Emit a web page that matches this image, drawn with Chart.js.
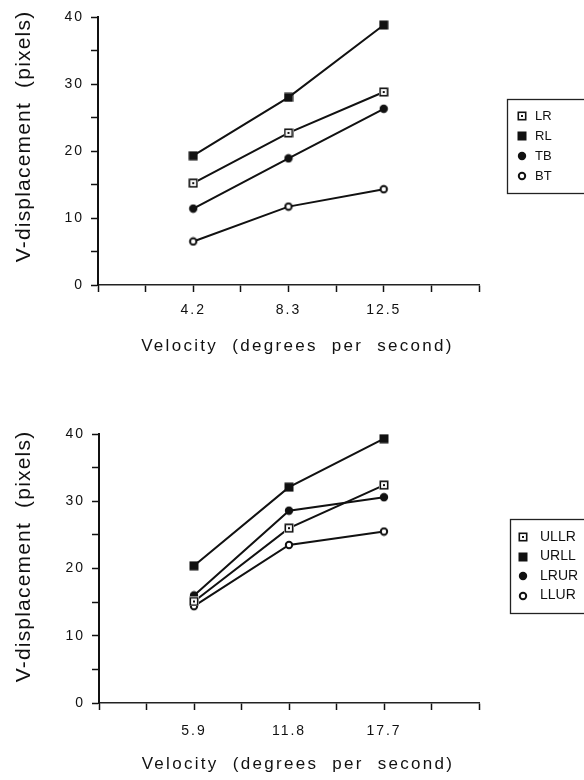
<!DOCTYPE html>
<html>
<head>
<meta charset="utf-8">
<script src="https://cdn.jsdelivr.net/npm/chart.js@4.4.1/dist/chart.umd.min.js"></script>
<style>
  html, body { margin: 0; padding: 0; background: #fff; overflow: hidden; }
  .panel { position: absolute; left: 0; width: 584px; height: 390px; }
</style>
</head>
<body>
<div class="panel" style="top:0"><canvas id="topChart" width="584" height="390"></canvas></div>
<div class="panel" style="top:390px"><canvas id="bottomChart" width="584" height="390"></canvas></div>
<script>
// top panel: velocities and V-displacement per direction
const topVelocities = ['4.2', '8.3', '12.5'];
const lrValues = [15.2, 22.7, 28.8];
const rlValues = [19.3, 28.0, 38.8];
const tbValues = [11.4, 18.9, 26.3];
const btValues = [6.5, 11.7, 14.3];

// bottom panel: diagonal directions
const bottomVelocities = ['5.9', '11.8', '17.7'];
const ullrValues = [15.1, 26.0, 32.4];
const urllValues = [20.4, 32.1, 39.3];
const lrurValues = [16.0, 28.6, 30.6];
const llurValues = [14.4, 23.5, 25.5];

const yMax = 40;
const xTitle = 'Velocity  (degrees  per  second)';
const yTitle = 'V-displacement  (pixels)';

const INK = '#111';
Chart.defaults.font.family = '"Liberation Sans", Arial, Helvetica, sans-serif';
Chart.defaults.color = INK;
Chart.defaults.animation = false;

// small marker images, used for points and for the legend
function makeMarker(kind) {
    const c = document.createElement('canvas');
    c.width = 10; c.height = 10;
    const g = c.getContext('2d');
    g.fillStyle = INK;
    g.strokeStyle = INK;
    if (kind === 'openSquare') {
        g.fillStyle = '#fff';
        g.fillRect(0, 0, 10, 10);
        g.lineWidth = 1.6;
        g.strokeRect(1.3, 1.3, 7.4, 7.4);
        g.fillStyle = INK;
        g.fillRect(4, 4, 2, 2);
    } else if (kind === 'filledSquare') {
        g.fillRect(0.5, 0.5, 9, 9);
    } else if (kind === 'filledCircle') {
        g.beginPath(); g.arc(5, 5, 4.2, 0, Math.PI * 2); g.fill();
    } else {
        g.fillStyle = '#fff';
        g.beginPath(); g.arc(5, 5, 3.2, 0, Math.PI * 2); g.fill();
        g.lineWidth = 2;
        g.stroke();
    }
    return c;
}

const markers = {
    openSquare: makeMarker('openSquare'),
    filledSquare: makeMarker('filledSquare'),
    filledCircle: makeMarker('filledCircle'),
    openCircle: makeMarker('openCircle')
};

function series(label, values, marker) {
    return {
        label: label,
        data: values.map((v, i) => ({ x: (i + 1) * 2, y: v })),
        borderColor: INK,
        borderWidth: 2,
        pointStyle: markers[marker],
        pointRadius: 5,
        tension: 0
    };
}

// letter spaced tick labels like the old plotting program
const spacedTicks = {
    id: 'spacedTicks',
    beforeDraw(chart) { chart.ctx.letterSpacing = '2px'; },
    beforeDatasetsDraw(chart) { chart.ctx.letterSpacing = '0px'; }
};

const axisTitles = {
    id: 'axisTitles',
    afterDraw(chart, args, opts) {
        const { ctx, chartArea } = chart;
        ctx.save();
        ctx.fillStyle = INK;
        ctx.textAlign = 'center';
        ctx.textBaseline = 'middle';
        ctx.letterSpacing = '2.3px';
        ctx.font = '17px "Liberation Sans", Arial, sans-serif';
        ctx.fillText(xTitle, (chartArea.left + chartArea.right) / 2 + opts.xShift, chartArea.bottom + opts.xDrop);
        ctx.letterSpacing = '1.2px';
        ctx.font = '21px "Liberation Sans", Arial, sans-serif';
        ctx.translate(opts.yAt, (chartArea.top + chartArea.bottom) / 2 + opts.yShift);
        ctx.rotate(-Math.PI / 2);
        ctx.fillText(yTitle, 0, 0);
        ctx.restore();
    }
};

// framed legend, its right edge runs off the page
const boxLegend = {
    id: 'boxLegend',
    afterDraw(chart, args, opts) {
        const ctx = chart.ctx;
        ctx.save();
        ctx.letterSpacing = '0px';
        ctx.strokeStyle = '#222';
        ctx.lineWidth = 1.3;
        ctx.strokeRect(opts.left + 0.5, opts.top + 0.5, chart.width, opts.bottom - opts.top);
        ctx.fillStyle = INK;
        ctx.textBaseline = 'middle';
        ctx.font = opts.fontSize + 'px "Liberation Sans", Arial, sans-serif';
        chart.data.datasets.forEach((ds, i) => {
            const y = opts.firstY + i * opts.rowGap;
            const m = ds.pointStyle;
            ctx.drawImage(m, Math.round(opts.markerX - m.width / 2), Math.round(y - m.height / 2));
            ctx.fillText(ds.label, opts.textX, y);
        });
        ctx.restore();
    }
};

function buildPanel(canvasId, categories, datasets, box) {
    return new Chart(document.getElementById(canvasId), {
        type: 'line',
        data: { datasets: datasets },
        plugins: [spacedTicks, axisTitles, boxLegend],
        options: {
            responsive: false,
            layout: { padding: { top: box.top, left: 0, right: 584 - box.right, bottom: 0 } },
            plugins: {
                legend: { display: false },
                tooltip: { enabled: false },
                axisTitles: box.titles,
                boxLegend: box.legend
            },
            scales: {
                x: {
                    type: 'linear',
                    min: 0,
                    max: (categories.length + 1) * 2,
                    afterFit: s => { s.height = 390 - box.bottom; },
                    border: { display: true, color: '#222', width: 1.5 },
                    grid: { drawOnChartArea: false, tickLength: 7, tickColor: INK, tickWidth: 1.5 },
                    ticks: {
                        stepSize: 1,
                        autoSkip: false,
                        maxRotation: 0,
                        padding: box.xPad,
                        font: { size: 14 },
                        callback: v => (v % 2 === 0 && v > 0 && v / 2 <= categories.length) ? categories[v / 2 - 1] : ''
                    }
                },
                y: {
                    min: 0,
                    max: yMax,
                    afterFit: s => { s.width = box.left; },
                    border: { display: true, color: INK, width: 2 },
                    grid: { drawOnChartArea: false, tickLength: 7, tickColor: INK, tickWidth: 1.5 },
                    ticks: {
                        stepSize: 5,
                        padding: 7,
                        font: { size: 14 },
                        callback: v => (v % 10 === 0 ? v : '')
                    }
                }
            }
        }
    });
}

buildPanel('topChart', topVelocities, [
    series('LR', lrValues, 'openSquare'),
    series('RL', rlValues, 'filledSquare'),
    series('TB', tbValues, 'filledCircle'),
    series('BT', btValues, 'openCircle')
], {
    left: 98, right: 479, top: 17, bottom: 285, xPad: 10,
    titles: { xShift: 9, xDrop: 61, yAt: 24, yShift: -14.5 },
    legend: { left: 507, top: 99, bottom: 193, markerX: 522, textX: 535, firstY: 116, rowGap: 20, fontSize: 13 }
});

buildPanel('bottomChart', bottomVelocities, [
    series('ULLR', ullrValues, 'openSquare'),
    series('URLL', urllValues, 'filledSquare'),
    series('LRUR', lrurValues, 'filledCircle'),
    series('LLUR', llurValues, 'openCircle')
], {
    left: 99, right: 479, top: 44, bottom: 313, xPad: 13,
    titles: { xShift: 9, xDrop: 61, yAt: 24, yShift: -12 },
    legend: { left: 510, top: 129, bottom: 223, markerX: 523, textX: 540, firstY: 147, rowGap: 19.5, fontSize: 14 }
});
</script>
</body>
</html>
